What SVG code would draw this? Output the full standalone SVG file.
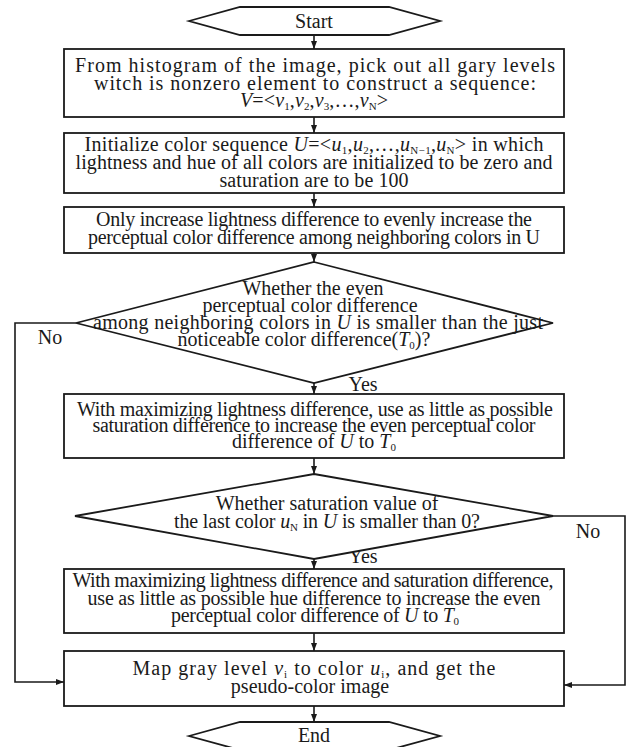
<svg xmlns="http://www.w3.org/2000/svg" width="626" height="747" viewBox="0 0 626 747">
<style>
  .shape{fill:#fff;stroke:#1a1a1a;stroke-width:1.8}
  .conn{fill:none;stroke:#1a1a1a;stroke-width:1.6}
  text{font-family:"Liberation Serif","Times New Roman",serif;font-size:20px;fill:#1a1a1a;text-anchor:middle}
  .it{font-style:italic}
  .sub{font-size:11px;font-style:normal}
</style>
<defs>
  <marker id="arr" markerWidth="8" markerHeight="6" refX="8" refY="3" orient="auto" markerUnits="userSpaceOnUse">
    <path d="M0,0 L8,3 L0,6 z" fill="#1a1a1a"/>
  </marker>
</defs>
<rect width="626" height="747" fill="#fff"/>

<g id="connectors">
  <line class="conn" x1="314" y1="35" x2="314" y2="49" marker-end="url(#arr)"/>
  <line class="conn" x1="314" y1="117" x2="314" y2="133" marker-end="url(#arr)"/>
  <line class="conn" x1="314" y1="193" x2="314" y2="207" marker-end="url(#arr)"/>
  <line class="conn" x1="314" y1="253" x2="314" y2="262" marker-end="url(#arr)"/>
  <line class="conn" x1="314" y1="383" x2="314" y2="394" marker-end="url(#arr)"/>
  <line class="conn" x1="314" y1="458" x2="314" y2="474" marker-end="url(#arr)"/>
  <line class="conn" x1="314" y1="559" x2="314" y2="569" marker-end="url(#arr)"/>
  <line class="conn" x1="314" y1="633" x2="314" y2="651" marker-end="url(#arr)"/>
  <line class="conn" x1="314" y1="706" x2="314" y2="722" marker-end="url(#arr)"/>
  <polyline class="conn" points="76,323 15,323 15,682 64,682" marker-end="url(#arr)"/>
  <polyline class="conn" points="553,516 625,516 625,685 564,685" marker-end="url(#arr)"/>
  <text x="50" y="344">No</text>
  <text x="588" y="538">No</text>
  <text x="363" y="391">Yes</text>
  <text x="363" y="563">Yes</text>
</g>

<g id="start">
  <polygon class="shape" points="189,21 240,7 389,7 440,21 389,35 240,35"/>
  <text x="314" y="28">Start</text>
</g>

<g id="box1">
  <rect class="shape" x="64" y="49" width="500" height="68"/>
  <text x="315" y="72" textLength="480" lengthAdjust="spacing">From histogram of the image, pick out all gary levels</text>
  <text x="315" y="90" textLength="442" lengthAdjust="spacing">witch is nonzero element to construct a sequence:</text>
  <text x="314" y="107" textLength="148" lengthAdjust="spacing"><tspan class="it">V</tspan>=&lt;<tspan class="it">v</tspan><tspan class="sub" dy="3">1</tspan><tspan dy="-3">,</tspan><tspan class="it">v</tspan><tspan class="sub" dy="3">2</tspan><tspan dy="-3">,</tspan><tspan class="it">v</tspan><tspan class="sub" dy="3">3</tspan><tspan dy="-3">,…,</tspan><tspan class="it">v</tspan><tspan class="sub" dy="3">N</tspan><tspan dy="-3">&gt;</tspan></text>
</g>

<g id="box2">
  <rect class="shape" x="64" y="133" width="500" height="60"/>
  <text x="314" y="151" textLength="459" lengthAdjust="spacing">Initialize color sequence <tspan class="it">U</tspan>=&lt;<tspan class="it">u</tspan><tspan class="sub" dy="3">1</tspan><tspan dy="-3">,</tspan><tspan class="it">u</tspan><tspan class="sub" dy="3">2</tspan><tspan dy="-3">,…,</tspan><tspan class="it">u</tspan><tspan class="sub" dy="3">N−1</tspan><tspan dy="-3">,</tspan><tspan class="it">u</tspan><tspan class="sub" dy="3">N</tspan><tspan dy="-3">&gt; in which</tspan></text>
  <text x="314" y="169" textLength="477" lengthAdjust="spacing">lightness and hue of all colors are initialized to be zero and</text>
  <text x="314" y="187" textLength="189" lengthAdjust="spacing">saturation are to be 100</text>
</g>

<g id="box3">
  <rect class="shape" x="64" y="207" width="500" height="46"/>
  <text x="314" y="226" textLength="436" lengthAdjust="spacing">Only increase lightness difference to evenly increase the</text>
  <text x="314" y="244" textLength="452" lengthAdjust="spacing">perceptual color difference among neighboring colors in U</text>
</g>

<g id="decision1">
  <polygon class="shape" points="314,262 553,323 314,383 76,323"/>
  <text x="313" y="295">Whether the even</text>
  <text x="310" y="312">perceptual color difference</text>
  <text x="318" y="329" textLength="450" lengthAdjust="spacing">among neighboring colors in <tspan class="it">U</tspan> is smaller than the just</text>
  <text x="304" y="346">noticeable color difference(<tspan class="it">T</tspan><tspan class="sub" dy="3">0</tspan><tspan dy="-3">)?</tspan></text>
</g>

<g id="box4">
  <rect class="shape" x="64" y="394" width="500" height="64"/>
  <text x="315" y="416" textLength="476" lengthAdjust="spacing">With maximizing lightness difference, use as little as possible</text>
  <text x="314" y="432" textLength="443" lengthAdjust="spacing">saturation difference to increase the even perceptual color</text>
  <text x="314" y="448">difference of <tspan class="it">U</tspan> to <tspan class="it">T</tspan><tspan class="sub" dy="3">0</tspan></text>
</g>

<g id="decision2">
  <polygon class="shape" points="314,474 553,516 314,559 75,516"/>
  <text x="327" y="510">Whether saturation value of</text>
  <text x="327" y="528" textLength="306" lengthAdjust="spacing">the last color <tspan class="it">u</tspan><tspan class="sub" dy="3">N</tspan><tspan dy="-3"> in </tspan><tspan class="it">U</tspan> is smaller than 0?</text>
</g>

<g id="box5">
  <rect class="shape" x="64" y="569" width="500" height="64"/>
  <text x="313" y="587" textLength="481" lengthAdjust="spacing">With maximizing lightness difference and saturation difference,</text>
  <text x="314" y="605" textLength="453" lengthAdjust="spacing">use as little as possible hue difference to increase the even</text>
  <text x="315" y="622" textLength="288" lengthAdjust="spacing">perceptual color difference of <tspan class="it">U</tspan> to <tspan class="it">T</tspan><tspan class="sub" dy="3">0</tspan></text>
</g>

<g id="box6">
  <rect class="shape" x="64" y="651" width="500" height="55"/>
  <text x="314" y="675" textLength="363" lengthAdjust="spacing">Map gray level <tspan class="it">v</tspan><tspan class="sub" dy="3">i</tspan><tspan dy="-3"> to color </tspan><tspan class="it">u</tspan><tspan class="sub" dy="3">i</tspan><tspan dy="-3">, and get the</tspan></text>
  <text x="310" y="693">pseudo-color image</text>
</g>

<g id="end">
  <polygon class="shape" points="189,736 240,722 389,722 440,736 389,750 240,750"/>
  <text x="314" y="742">End</text>
</g>
</svg>
